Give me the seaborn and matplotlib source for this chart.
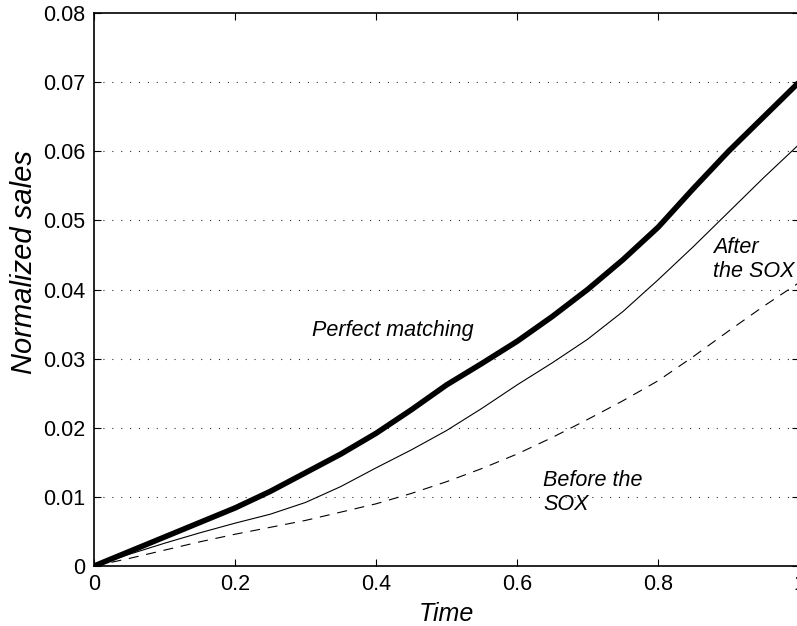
import pandas as pd
import matplotlib
matplotlib.use("Agg")
import matplotlib.pyplot as plt
import seaborn as sns

# values
time = [0.0, 0.05, 0.1, 0.15, 0.2, 0.25, 0.3, 0.35, 0.4, 0.45, 0.5,
        0.55, 0.6, 0.65, 0.7, 0.75, 0.8, 0.85, 0.9, 0.95, 1.0]
perfect = [0.0, 0.0021, 0.0042, 0.0063, 0.0084, 0.0108, 0.0135, 0.0162, 0.0192, 0.0226, 0.0262,
           0.0293, 0.0325, 0.0361, 0.0400, 0.0443, 0.0490, 0.0546, 0.0600, 0.0650, 0.0700]
after_sox = [0.0, 0.0017, 0.0033, 0.0048, 0.0062, 0.0075, 0.0092, 0.0115, 0.0142, 0.0168, 0.0196,
             0.0228, 0.0262, 0.0294, 0.0328, 0.0368, 0.0414, 0.0462, 0.0512, 0.0562, 0.0610]
before_sox = [0.0, 0.0011, 0.0023, 0.0035, 0.0046, 0.0056, 0.0066, 0.0078, 0.0090, 0.0105, 0.0122,
              0.0141, 0.0162, 0.0186, 0.0212, 0.0239, 0.0268, 0.0303, 0.0340, 0.0376, 0.0410]

x_ticks = [0, 0.2, 0.4, 0.6, 0.8, 1.0]
x_labels = ["0", "0.2", "0.4", "0.6", "0.8", "1"]
y_ticks = [0, 0.01, 0.02, 0.03, 0.04, 0.05, 0.06, 0.07, 0.08]
y_labels = ["0", "0.01", "0.02", "0.03", "0.04", "0.05", "0.06", "0.07", "0.08"]

df = pd.DataFrame({"Time": time, "perfect": perfect,
                   "after": after_sox, "before": before_sox})

sns.set_style("ticks")
plt.rcParams["font.family"] = ["Liberation Sans", "DejaVu Sans"]
plt.rcParams["text.color"] = "black"
plt.rcParams["axes.labelcolor"] = "black"

fig = plt.figure(figsize=(7.97, 6.26), dpi=100)
ax = fig.add_axes([0.118, 0.0958, 0.8846, 0.8834])

sns.lineplot(data=df, x="Time", y="perfect", color="black", linewidth=4.0, ax=ax)
sns.lineplot(data=df, x="Time", y="after", color="black", linewidth=0.8, ax=ax)
sns.lineplot(data=df, x="Time", y="before", color="black", linewidth=0.8,
             linestyle=(0, (9, 7)), ax=ax)

ax.set_xlim(0, 1)
ax.set_ylim(0, 0.08)
ax.set_xticks(x_ticks)
ax.set_xticklabels(x_labels)
ax.set_yticks(y_ticks)
ax.set_yticklabels(y_labels)

for yv in y_ticks[1:-1]:
    ax.axhline(yv, color="#333333", linewidth=0.8, linestyle=(0, (1, 7)), zorder=0)

ax.tick_params(direction="in", length=5, width=0.8, labelsize=15.5,
               top=True, right=True, colors="black", pad=6)
for s in ax.spines.values():
    s.set_visible(True)
    s.set_color("black")
    s.set_linewidth(1.2)

ax.set_xlabel("Time", fontsize=18, style="italic", labelpad=5)
ax.set_ylabel("Normalized sales", fontsize=21, style="italic")
ax.yaxis.set_label_coords(-0.079, 0.55)

ax.text(0.309, 0.0333, "Perfect matching", fontsize=15.5, style="italic", va="baseline")
ax.text(0.878, 0.0418, "After\nthe SOX", fontsize=15.5, style="italic", va="baseline")
ax.text(0.637, 0.0081, "Before the\nSOX", fontsize=15.5, style="italic", va="baseline")

fig.savefig("out.png", dpi=100)
